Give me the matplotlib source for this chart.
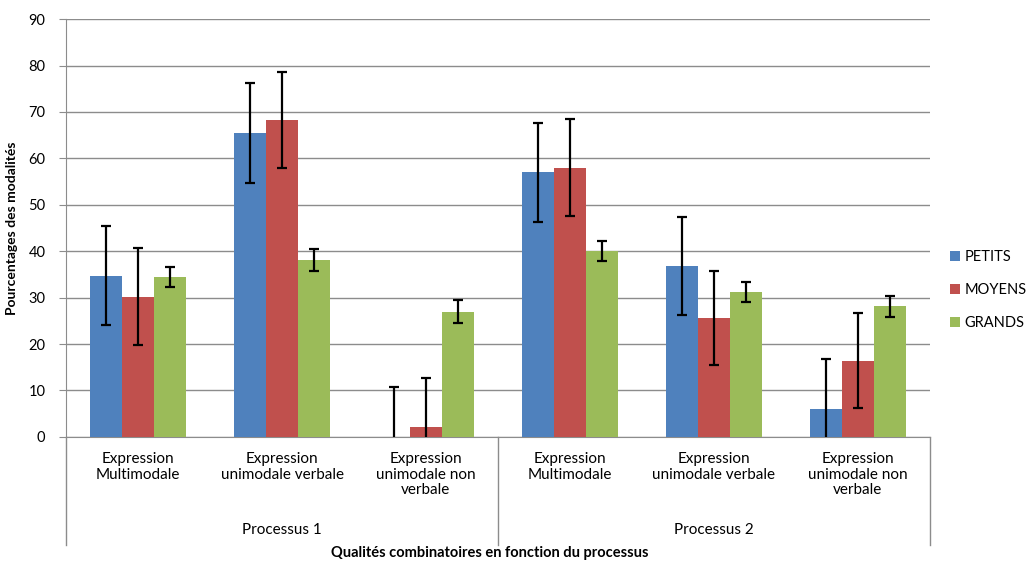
import matplotlib.pyplot as plt
import numpy as np

plt.rcParams['font.family'] = ['Lato', 'DejaVu Sans']

categories = ['Expression\nMultimodale', 'Expression\nunimodale verbale',
              'Expression\nunimodale non\nverbale',
              'Expression\nMultimodale', 'Expression\nunimodale verbale',
              'Expression\nunimodale non\nverbale']
processes = ['Processus 1', 'Processus 2']
series = ['PETITS', 'MOYENS', 'GRANDS']

petits = [34.7, 65.4, 0.0, 57.0, 36.8, 6.0]
moyens = [30.2, 68.3, 2.2, 58.0, 25.6, 16.4]
grands = [34.5, 38.1, 27.0, 40.1, 31.2, 28.1]

petits_err = [10.7, 10.8, 10.7, 10.7, 10.6, 10.8]
moyens_err = [10.4, 10.3, 10.4, 10.4, 10.2, 10.2]
grands_err = [2.2, 2.3, 2.4, 2.1, 2.2, 2.2]

colors = ['#4F81BD', '#C0504D', '#9BBB59']

fig = plt.figure(figsize=(10.34, 5.63), dpi=100)
ax = fig.add_axes([0.064, 0.224, 0.835, 0.742])

x = np.arange(len(categories))
w = 0.222
values = [petits, moyens, grands]
errors = [petits_err, moyens_err, grands_err]
for i in range(3):
    ax.bar(x + (i - 1) * w, values[i], w, color=colors[i], label=series[i],
           yerr=errors[i], zorder=3,
           error_kw=dict(ecolor='black', elinewidth=1.6, capsize=3.5, capthick=1.6))

ax.set_xlim(-0.5, 5.5)
ax.set_ylim(0, 90)
ax.set_yticks(np.arange(0, 91, 10))
ax.yaxis.grid(True, color='#8c8c8c', linewidth=1.0, zorder=0)
ax.set_axisbelow(True)
for s in ['top', 'right']:
    ax.spines[s].set_visible(False)
ax.spines['left'].set_color('#8c8c8c')
ax.spines['bottom'].set_color('#8c8c8c')
ax.tick_params(axis='y', length=5, color='#8c8c8c', labelsize=10.5, pad=10)
ax.set_xticks(x)
ax.set_xticklabels(categories, fontsize=11, linespacing=1.15, va='top')
ax.tick_params(axis='x', length=0, pad=11)

# category separators and group labels
tr = ax.get_xaxis_transform()
for xs in [-0.5, 2.5, 5.5]:
    ax.plot([xs, xs], [0, -0.258], transform=tr, color='#8c8c8c',
            linewidth=1.0, clip_on=False)
for j, p in enumerate(processes):
    ax.text(1 + 3 * j, -0.222, p, transform=tr, ha='center', va='center',
            fontsize=11)

ax.set_ylabel('Pourcentages des modalités', fontsize=10, fontweight='bold')
ax.yaxis.set_label_coords(-0.056, 0.5)
fig.text(0.474, 0.018, 'Qualités combinatoires en fonction du processus',
         ha='center', va='center', fontsize=10.5, fontweight='bold')

fig.legend(loc='center left', bbox_to_anchor=(0.906, 0.485), frameon=False,
           fontsize=10.5, handlelength=0.7, handleheight=0.7, handletextpad=0.3,
           labelspacing=1.3)

fig.savefig('out.png', dpi=100)
